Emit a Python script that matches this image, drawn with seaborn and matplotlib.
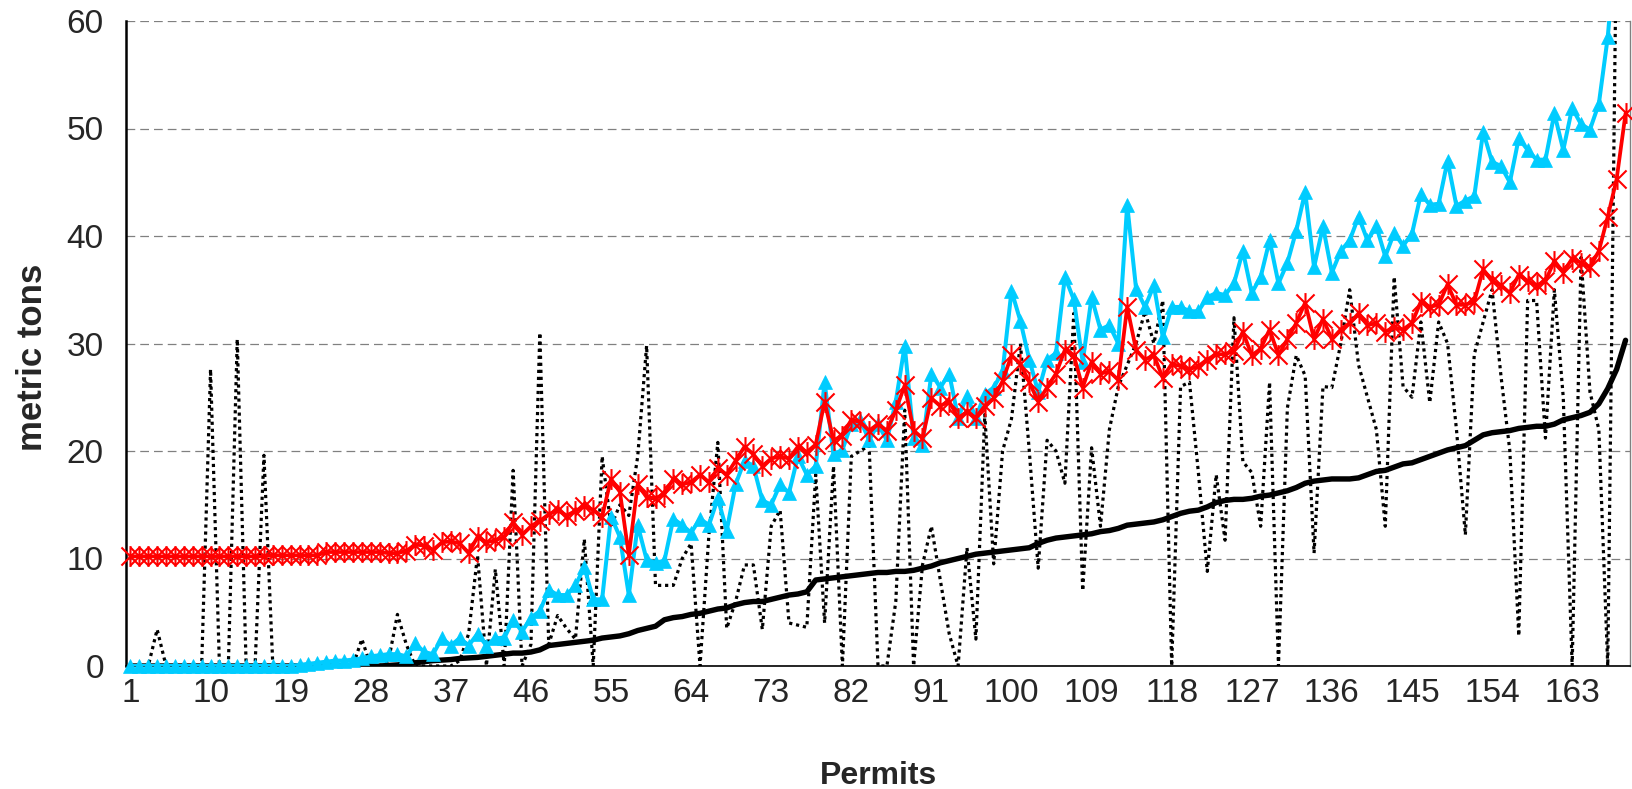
import numpy as np
import pandas as pd
import seaborn as sns
import matplotlib
matplotlib.use("Agg")
import matplotlib.pyplot as plt
from matplotlib.path import Path
from matplotlib import font_manager

# ---------------- data ----------------
permits = list(range(1, 170))
tick_values = list(range(1, 170, 9))
tick_labels = [str(v) for v in tick_values]

black_solid = (
    [0.0] * 29
    + [0.05, 0.1, 0.2, 0.3, 0.4, 0.5, 0.55, 0.6, 0.7, 0.75, 0.8]
    + [0.9, 1.0, 1.1, 1.2, 1.2, 1.3, 1.5, 1.9, 2.0, 2.1]
    + [2.2, 2.3, 2.4, 2.6, 2.7, 2.8, 3.0, 3.3, 3.5, 3.7]
    + [4.3, 4.5, 4.6, 4.8, 4.9, 5.1, 5.3, 5.4, 5.7, 5.9]
    + [6.0, 6.0, 6.2, 6.4, 6.6, 6.7, 6.9, 8.0, 8.1, 8.2]
    + [8.3, 8.4, 8.5, 8.6, 8.7, 8.7, 8.8, 8.8, 8.9, 9.1]
    + [9.3, 9.6, 9.8, 10.0, 10.2, 10.4, 10.5, 10.6, 10.7, 10.8]
    + [10.9, 11.0, 11.4, 11.7, 11.9, 12.0, 12.1, 12.2, 12.3, 12.5]
    + [12.6, 12.8, 13.1, 13.2, 13.3, 13.4, 13.6, 13.9, 14.2, 14.4]
    + [14.5, 14.8, 15.2, 15.4, 15.5, 15.5, 15.6, 15.8, 15.9, 16.1]
    + [16.3, 16.6, 17.0, 17.2, 17.3, 17.4, 17.4, 17.4, 17.5, 17.8]
    + [18.1, 18.2, 18.5, 18.8, 18.9, 19.2, 19.5, 19.8, 20.1, 20.3]
    + [20.5, 21.0, 21.5, 21.7, 21.8, 21.9, 22.1, 22.2, 22.3, 22.3]
    + [22.5, 22.9, 23.1, 23.3, 23.6, 24.4, 25.8, 27.6, 30.3]
)

red_star = (
    [10.2] * 16 + [10.3] * 6 + [10.6] * 7 + [10.5]
    + [10.5, 10.7, 11.3, 11.2, 10.8, 11.5, 11.6, 11.4, 10.5, 12.0]
    + [11.5, 11.7, 12.0, 13.4, 12.2, 13.0, 13.5, 14.1, 14.5, 14.0]
    + [14.4, 14.9, 14.5, 13.9, 17.4, 16.2, 10.3, 16.9, 15.7, 15.6]
    + [16.0, 17.4, 16.9, 17.1, 17.8, 17.1, 18.4, 17.8, 19.1, 20.4]
    + [19.7, 18.6, 19.3, 19.5, 19.3, 20.4, 19.9, 20.6, 24.6, 21.0]
    + [21.4, 22.9, 22.7, 21.9, 22.5, 21.9, 23.8, 26.1, 21.9, 21.2]
    + [24.9, 24.2, 24.6, 23.1, 23.6, 23.1, 24.2, 24.9, 26.5, 28.9]
    + [28.1, 26.4, 24.6, 25.9, 27.2, 29.4, 28.9, 25.9, 28.3, 27.2]
    + [27.4, 26.6, 33.4, 29.4, 28.5, 28.9, 26.8, 28.1, 27.9, 27.6]
    + [27.9, 28.5, 29.0, 29.0, 29.3, 31.1, 28.9, 29.5, 31.3, 28.9]
    + [30.4, 31.9, 33.8, 30.4, 32.3, 30.4, 31.3, 31.9, 32.8, 31.7]
    + [31.9, 31.1, 31.5, 31.3, 31.9, 33.9, 33.4, 33.6, 35.5, 33.6]
    + [33.6, 33.9, 36.9, 35.8, 35.4, 34.7, 36.4, 35.8, 35.4, 35.8]
    + [37.7, 36.6, 37.9, 37.5, 37.1, 38.6, 41.8, 45.3, 51.4]
)

cyan_tri = (
    [0.0] * 19 + [0.1, 0.2, 0.3, 0.4, 0.5, 0.5, 0.6, 0.7, 0.9, 1.0, 1.1]
    + [1.1, 0.9, 2.1, 1.3, 1.1, 2.6, 1.9, 2.6, 1.9, 3.0]
    + [1.9, 2.6, 2.6, 4.3, 3.2, 4.5, 5.1, 7.1, 6.6, 6.6]
    + [7.5, 9.2, 6.2, 6.2, 13.9, 12.0, 6.6, 13.1, 9.9, 9.6]
    + [9.8, 13.7, 13.1, 12.4, 13.7, 13.1, 15.6, 12.6, 16.9, 19.1]
    + [18.6, 15.4, 15.0, 16.9, 16.1, 19.5, 17.8, 18.6, 26.4, 19.7]
    + [20.1, 22.5, 22.9, 21.0, 22.5, 21.0, 24.6, 29.8, 21.2, 20.6]
    + [27.2, 25.9, 27.2, 23.1, 25.1, 23.1, 25.3, 25.9, 27.4, 34.9]
    + [32.1, 28.5, 25.5, 28.5, 29.1, 36.2, 34.1, 28.3, 34.3, 31.3]
    + [31.7, 30.0, 42.9, 35.1, 33.4, 35.4, 30.6, 33.4, 33.4, 33.0]
    + [33.0, 34.3, 34.7, 34.5, 35.6, 38.6, 34.7, 36.2, 39.6, 35.6]
    + [37.5, 40.5, 44.1, 37.1, 40.9, 36.6, 38.6, 39.6, 41.8, 39.6]
    + [40.9, 38.1, 40.3, 39.1, 40.2, 43.9, 42.9, 43.0, 47.0, 42.8]
    + [43.3, 43.7, 49.7, 46.9, 46.5, 45.0, 49.1, 48.0, 47.1, 47.1]
    + [51.4, 48.0, 51.9, 50.4, 49.9, 52.3, 58.5, 68.0, 75.0]
)

black_dotted = (
    [0, 0, 0, 3.4, 0, 0, 0, 0, 0, 27.6]
    + [0, 0, 30.4, 0, 0, 19.6, 0, 0, 0, 0]
    + [0, 0, 0, 0, 0, 0, 2.5, 0, 0, 0.5]
    + [4.8, 2.0, 0, 0, 0, 0, 0, 0.5, 3, 10.3]
    + [0, 9, 0, 18.2, 0, 2, 31, 2, 4.7, 3.5]
    + [2.5, 11.8, 0, 19.5, 13, 15, 14, 19.5, 29.8, 7.5]
    + [7.5, 7.5, 10, 11.4, 0, 12.2, 20.8, 3.5, 6, 9.4]
    + [9.4, 3.4, 13, 14.5, 4, 3.8, 3.6, 17.8, 4, 18.6]
    + [0, 19.5, 20, 20.5, 0, 0, 6, 23.8, 0, 9.4]
    + [13, 8, 3, 0, 11, 2.5, 23.4, 9.5, 20, 23]
    + [30, 20, 9.1, 21, 20, 17, 32.8, 7, 20.3, 13]
    + [22, 26, 28, 30, 33, 30, 34, 0, 26, 26.4]
    + [18, 8.8, 17.8, 11.7, 32.4, 19, 18, 13, 26.4, 0]
    + [24, 28.9, 27, 10.5, 26, 25.9, 30, 35, 28, 25]
    + [22, 13, 36.2, 26, 25, 32, 24.5, 32, 30, 22]
    + [12.2, 29, 32, 35, 27, 20, 2.8, 34, 34, 21.2]
    + [35, 25, 0, 38, 25.5, 22, 0, 70, 80]
)

df = pd.DataFrame({
    "permit": permits,
    "black_solid": black_solid,
    "red_star": red_star,
    "cyan_tri": cyan_tri,
    "black_dotted": black_dotted,
})

# ---------------- style ----------------
sns.set_style("white")
names = {f.name for f in font_manager.fontManager.ttflist}
regular_font = "Liberation Sans" if "Liberation Sans" in names else "DejaVu Sans"
narrow_font = "Liberation Sans Narrow" if "Liberation Sans Narrow" in names else regular_font
plt.rcParams["font.family"] = [regular_font, "DejaVu Sans"]

W, H = 1632, 789
fig = plt.figure(figsize=(W / 100, H / 100), dpi=100)
L, R, T, B = 126, 1630, 21, 666
ax = fig.add_axes([L / W, 1 - B / H, (R - L) / W, (B - T) / H])

RED = "#FF0000"
CYAN = "#00CCFF"

# asterisk marker (X plus vertical bar) like the spreadsheet "star" marker
star = Path(
    [(-1, -1), (1, 1), (-1, 1), (1, -1), (0, -1.15), (0, 1.15)],
    [Path.MOVETO, Path.LINETO, Path.MOVETO, Path.LINETO, Path.MOVETO, Path.LINETO],
)

# dotted black series
sns.lineplot(data=df, x="permit", y="black_dotted", ax=ax, color="black",
             lw=2.3, linestyle=(0, (1, 1.2)), dash_capstyle="butt", zorder=2,
             errorbar=None)
# black solid series
sns.lineplot(data=df, x="permit", y="black_solid", ax=ax, color="black",
             lw=3.9, zorder=3, errorbar=None, solid_capstyle="round")
# cyan triangles: line (clipped) + markers (not clipped)
sns.lineplot(data=df, x="permit", y="cyan_tri", ax=ax, color=CYAN,
             lw=2.9, zorder=4, errorbar=None)
cyan_vis = df[df["cyan_tri"] <= 60]
sns.lineplot(data=cyan_vis, x="permit", y="cyan_tri", ax=ax, color=CYAN,
             linestyle="", marker="^", markersize=10.5, markeredgecolor=CYAN,
             markerfacecolor=CYAN, markeredgewidth=0.5, zorder=4,
             errorbar=None, clip_on=False)
# red asterisks
sns.lineplot(data=df, x="permit", y="red_star", ax=ax, color=RED,
             lw=2.7, marker=star, markersize=15, markeredgecolor=RED,
             markerfacecolor="none", markeredgewidth=1.5, zorder=5,
             errorbar=None, clip_on=False)

# ---------------- axes ----------------
ax.set_xlim(0.5, 169.5)
ax.set_ylim(0, 60)

ax.set_yticks(range(0, 61, 10))
ax.set_yticks(range(0, 61, 2), minor=True)
ax.tick_params(axis="y", which="major", direction="out", length=7, width=1,
               color="black", pad=9, labelsize=24)
ax.tick_params(axis="y", which="minor", direction="in", length=5, width=1,
               color="black")

ax.set_xticks(tick_values)
ax.set_xticklabels(tick_labels, fontfamily=[narrow_font, "DejaVu Sans"])
ax.set_xticks(np.arange(0.5, 170, 1.0), minor=True)
ax.tick_params(axis="x", which="major", length=0, pad=9, labelsize=24)
ax.tick_params(axis="x", which="minor", direction="out", length=6, width=1,
               color="#555555")

ax.yaxis.grid(True, which="major", linestyle=(0, (7, 4)), color="#808080", lw=0.9)
ax.xaxis.grid(False)
ax.set_axisbelow(True)

ax.spines["top"].set_visible(False)
ax.spines["right"].set_color("#808080")
ax.spines["right"].set_linewidth(1.0)
ax.spines["left"].set_color("black")
ax.spines["left"].set_linewidth(1.8)
ax.spines["bottom"].set_color("black")
ax.spines["bottom"].set_linewidth(1.2)

ax.set_xlabel("Permits", fontsize=23, fontweight="bold",
              fontfamily=[narrow_font, "DejaVu Sans"])
ax.set_ylabel("metric tons", fontsize=25, fontweight="bold",
              fontfamily=[narrow_font, "DejaVu Sans"])
ax.xaxis.set_label_coords(0.5, -0.147)
ax.yaxis.set_label_coords(-0.051, 0.479)

fig.savefig("out.png", dpi=100)
